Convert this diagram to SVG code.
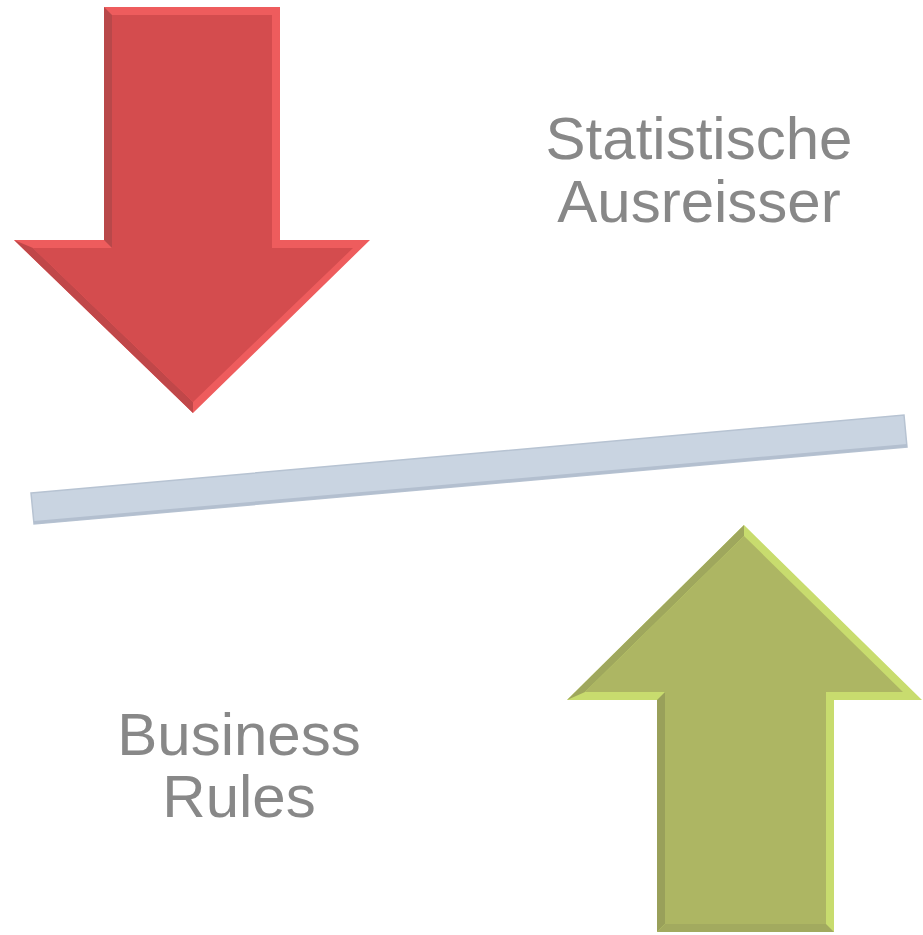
<svg xmlns="http://www.w3.org/2000/svg" width="923" height="935" viewBox="0 0 923 935">
  <style>
    .lbl { font-family: "Liberation Sans", Arial, sans-serif; font-size: 60px; fill: #888888; text-anchor: middle; }
  </style>
  <rect width="923" height="935" fill="#ffffff"/>

  <g id="arrow-down">
    <polygon points="104,7 280,7 280,240 370,240 193,413 14,240 104,240" fill="#ee5c5d"/>
    <polygon points="104,7 112,15 112,248 104,240" fill="#b9484a"/>
    <polygon points="14,240 33,248 193,402 193,413" fill="#c04749"/>
    <polygon points="112,15 272,15 272,248 353,248 193,402 33,248 112,248" fill="#d44c4e"/>
  </g>

  <g id="bar">
    <polygon points="31,493 904,415 907,447 34,524" fill="#c9d4e1" stroke="#b7c3d2" stroke-width="1.5"/>
    <polygon points="34,521 907,444 907,447 34,524" fill="#b3bfcf"/>
  </g>

  <g id="arrow-up">
    <polygon points="744,525 922,700 834,700 834,932 657,932 657,700 567,700" fill="#c8dc6e"/>
    <polygon points="744,525 744,536 585,692 567,700" fill="#9fa75d"/>
    <polygon points="657,700 665,692 665,924 657,932" fill="#99a05a"/>
    <polygon points="657,932 665,924 826,924 834,932" fill="#a2aa5f"/>
    <polygon points="744,536 903,692 826,692 826,924 665,924 665,692 585,692" fill="#adb663"/>
  </g>

  <g id="label-top">
    <text class="lbl" x="699" y="159">Statistische</text>
    <text class="lbl" x="699" y="222">Ausreisser</text>
  </g>

  <g id="label-bottom">
    <text class="lbl" x="239" y="755">Business</text>
    <text class="lbl" x="239" y="817">Rules</text>
  </g>
</svg>
